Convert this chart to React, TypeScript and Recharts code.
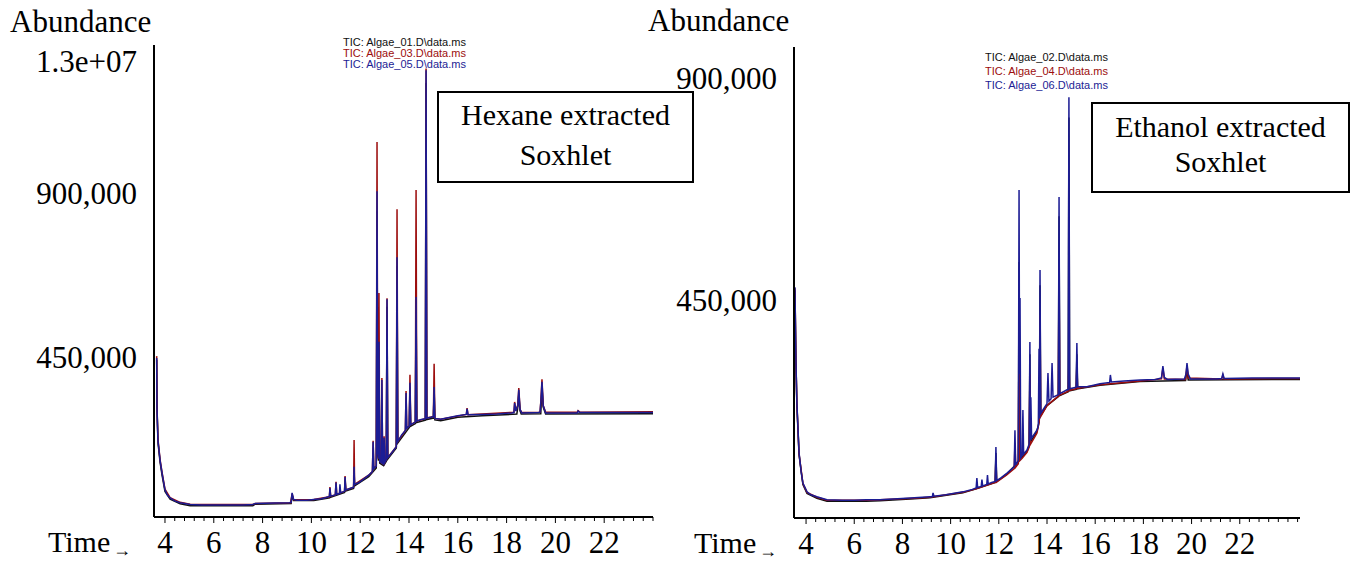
// GC-MS TIC chromatograms — hexane vs ethanol Soxhlet extracts
import { Line, LineChart, XAxis, YAxis } from 'recharts'

type Pt = [number, number] // [time (min), abundance (thousands)]

/* ── Hexane extract (left panel) ── */

const hexBlack: Pt[] = [
  [3.66, 445], [3.68, 300], [3.72, 215], [3.8, 165], [3.88, 130], [4.0, 86], [4.21, 65], [4.62, 52],
  [5.03, 47], [7.6, 47], [7.7, 51], [9.17, 53], [9.21, 76], [9.27, 61], [10.1, 61], [10.74, 68],
  [10.76, 90], [10.79, 70], [11.36, 83], [11.38, 118], [11.41, 87], [11.73, 94], [11.75, 140], [11.77, 101],
  [12.35, 126], [12.66, 150], [12.69, 850], [12.72, 185], [12.75, 170], [12.77, 470], [12.8, 163], [12.96, 156],
  [13.07, 168], [13.1, 590], [13.13, 174], [13.48, 204], [13.51, 700], [13.54, 218], [14.01, 260], [14.04, 370],
  [14.07, 264], [14.26, 271], [14.29, 600], [14.32, 274], [14.67, 280], [14.7, 1200], [14.73, 282], [15.0, 286],
  [15.03, 360], [15.06, 281], [15.3, 279], [16.0, 288], [17.0, 292], [18.42, 297], [18.46, 316], [18.5, 350],
  [18.55, 306], [18.6, 297], [19.4, 298], [19.45, 370], [19.5, 316], [19.6, 297], [24, 298],
]

const hexRed: Pt[] = [
  [3.66, 455], [3.67, 320], [3.71, 230], [3.8, 172], [3.88, 138], [4.0, 92], [4.21, 69], [4.62, 56],
  [5.03, 51], [7.6, 50], [7.7, 53], [9.15, 55], [9.21, 80], [9.27, 63], [10.1, 64], [10.74, 71],
  [10.76, 98], [10.79, 73], [10.98, 76], [11.01, 112], [11.04, 78], [11.36, 86], [11.38, 128], [11.41, 90],
  [11.73, 97], [11.75, 226], [11.77, 105], [12.35, 130], [12.5, 140], [12.53, 224], [12.56, 148], [12.66, 155],
  [12.69, 1039], [12.72, 195], [12.75, 176], [12.77, 627], [12.8, 168], [12.86, 165], [12.89, 395], [12.92, 162],
  [12.96, 160], [12.98, 236], [13.01, 165], [13.07, 172], [13.1, 613], [13.13, 178], [13.48, 208], [13.51, 856],
  [13.54, 222], [13.85, 252], [13.88, 360], [13.91, 258], [14.01, 264], [14.04, 404], [14.07, 268], [14.26, 275],
  [14.29, 908], [14.32, 278], [14.67, 284], [14.7, 1240], [14.73, 286], [15.0, 290], [15.03, 434], [15.06, 285],
  [15.3, 283], [16.35, 296], [16.38, 313], [16.42, 295], [18.3, 302], [18.33, 330], [18.38, 306], [18.46, 322],
  [18.5, 368], [18.55, 310], [18.62, 301], [19.37, 302], [19.41, 338], [19.45, 392], [19.5, 320], [19.6, 302],
  [20.9, 302], [20.93, 306], [21.0, 302], [24, 303],
]

const hexBlue: Pt[] = [
  [3.66, 450], [3.67, 316], [3.71, 226], [3.8, 170], [3.88, 136], [4.0, 90], [4.1, 76], [4.21, 68],
  [4.4, 60], [4.62, 55], [5.03, 50], [5.5, 49], [6.5, 49], [7.2, 49], [7.6, 50], [7.7, 53],
  [8.5, 54], [9.1, 55], [9.17, 56], [9.21, 82], [9.27, 64], [9.4, 62], [9.8, 62], [10.1, 64],
  [10.4, 66], [10.6, 69], [10.74, 72], [10.76, 95], [10.79, 73], [10.98, 76], [11.01, 110], [11.04, 78],
  [11.15, 80], [11.17, 105], [11.2, 82], [11.36, 86], [11.38, 125], [11.41, 90], [11.55, 93], [11.73, 97],
  [11.75, 153], [11.77, 105], [11.95, 110], [12.15, 120], [12.35, 130], [12.5, 140], [12.53, 221], [12.56, 148],
  [12.66, 155], [12.69, 905], [12.72, 190], [12.75, 175], [12.77, 494], [12.8, 168], [12.86, 165], [12.89, 390],
  [12.92, 162], [12.96, 160], [12.98, 232], [13.01, 165], [13.07, 172], [13.1, 610], [13.13, 178], [13.3, 192],
  [13.48, 208], [13.51, 725], [13.54, 222], [13.7, 240], [13.85, 252], [13.88, 354], [13.91, 258], [14.01, 264],
  [14.04, 382], [14.07, 268], [14.26, 275], [14.29, 616], [14.32, 278], [14.5, 282], [14.67, 284], [14.7, 1235],
  [14.73, 286], [14.9, 288], [15.0, 290], [15.03, 371], [15.06, 285], [15.3, 283], [15.6, 287], [16.0, 292],
  [16.35, 296], [16.38, 311], [16.42, 295], [17.0, 296], [17.6, 297], [18.2, 300], [18.3, 301], [18.33, 327],
  [18.38, 305], [18.46, 320], [18.5, 363], [18.55, 310], [18.62, 300], [19.3, 301], [19.37, 302], [19.41, 335],
  [19.45, 385], [19.5, 320], [19.6, 300], [20.5, 300], [20.9, 300], [20.93, 305], [21.0, 301], [22, 301],
  [23, 301], [24, 301],
]

/* ── Ethanol extract (right panel) ── */

const ethBlack: Pt[] = [
  [3.54, 470], [3.58, 325], [3.62, 236], [3.71, 136], [3.87, 76], [4.04, 58], [4.45, 48], [4.87, 42],
  [6.5, 42], [7.07, 43], [8.5, 47], [9.14, 49], [10.51, 59], [11.06, 67], [11.85, 80], [11.88, 140],
  [11.91, 82], [12.34, 97], [12.81, 122], [12.84, 527], [12.87, 128], [12.97, 132], [13.17, 143], [13.26, 155],
  [13.29, 340], [13.31, 162], [13.58, 183], [13.68, 205], [13.71, 480], [13.74, 216], [14.0, 236], [14.47, 254],
  [14.5, 620], [14.53, 256], [14.88, 264], [14.91, 820], [14.94, 266], [15.21, 269], [15.24, 340], [15.27, 270],
  [16.2, 277], [17.86, 285], [19.75, 287], [19.81, 310], [19.86, 288], [24.5, 289],
]

const ethRed: Pt[] = [
  [3.54, 474], [3.58, 327], [3.62, 239], [3.71, 138], [3.87, 78], [4.04, 60], [4.45, 50], [4.87, 44],
  [6.5, 44], [7.07, 45], [8.5, 48], [9.14, 50], [10.51, 60], [11.06, 67], [11.85, 80], [11.88, 130],
  [11.91, 81], [12.34, 96], [12.64, 108], [12.67, 160], [12.7, 111], [12.81, 118], [12.84, 420], [12.87, 124],
  [12.97, 129], [13.17, 141], [13.26, 152], [13.29, 300], [13.31, 157], [13.58, 180], [13.68, 204], [13.71, 420],
  [13.74, 214], [14.0, 236], [14.47, 255], [14.5, 520], [14.53, 257], [14.88, 265], [14.91, 330], [14.94, 267],
  [15.21, 270], [15.24, 320], [15.27, 271], [16.2, 278], [17.86, 286], [18.75, 290], [18.81, 312], [18.87, 290],
  [19.75, 289], [19.81, 318], [19.86, 292], [21.25, 290], [21.3, 298], [21.35, 290], [24.5, 291],
]

const ethBlue: Pt[] = [
  [3.54, 476], [3.58, 329], [3.62, 241], [3.71, 140], [3.8, 100], [3.87, 79], [4.04, 61], [4.2, 55],
  [4.45, 51], [4.87, 45], [5.5, 44], [6.0, 44], [6.5, 45], [7.07, 45], [7.8, 47], [8.5, 49],
  [9.14, 51], [9.24, 51], [9.27, 59], [9.31, 52], [9.8, 55], [10.51, 61], [10.9, 66], [11.06, 69],
  [11.09, 89], [11.12, 70], [11.27, 72], [11.3, 86], [11.33, 73], [11.5, 76], [11.53, 95], [11.56, 77],
  [11.7, 80], [11.85, 82], [11.88, 152], [11.91, 84], [12.1, 90], [12.34, 99], [12.55, 108], [12.64, 112],
  [12.67, 186], [12.7, 115], [12.75, 120], [12.81, 125], [12.84, 673], [12.86, 300], [12.88, 454], [12.91, 130],
  [12.97, 135], [13.0, 227], [13.03, 138], [13.17, 146], [13.26, 158], [13.29, 365], [13.31, 165], [13.33, 253],
  [13.36, 170], [13.58, 186], [13.64, 195], [13.67, 351], [13.69, 210], [13.71, 511], [13.74, 220], [13.83, 227],
  [14.0, 240], [14.04, 302], [14.08, 245], [14.17, 250], [14.21, 322], [14.25, 253], [14.47, 258], [14.5, 659],
  [14.53, 260], [14.83, 268], [14.88, 268], [14.91, 861], [14.94, 270], [15.21, 273], [15.24, 363], [15.27, 274],
  [15.66, 274], [16.2, 280], [16.6, 283], [16.63, 298], [16.67, 284], [17.2, 286], [17.86, 288], [18.5, 289],
  [18.75, 292], [18.81, 316], [18.87, 293], [19.0, 289], [19.7, 290], [19.77, 300], [19.81, 322], [19.86, 300],
  [19.95, 290], [21.0, 290], [21.25, 291], [21.3, 300], [21.35, 291], [22.5, 292], [24.5, 292],
]

/* ── Axis ticks & labels ── */

const hexYTicks = [450, 900, 1260]
const hexYLabels = ['450,000', '900,000', '1.3e+07']
const ethYTicks = [450, 900]
const ethYLabels = ['450,000', '900,000']
const timeLabels = [4, 6, 8, 10, 12, 14, 16, 18, 20, 22]

const hexLegend = ['TIC: Algae_01.D\\data.ms', 'TIC: Algae_03.D\\data.ms', 'TIC: Algae_05.D\\data.ms']
const ethLegend = ['TIC: Algae_02.D\\data.ms', 'TIC: Algae_04.D\\data.ms', 'TIC: Algae_06.D\\data.ms']

const COLORS = ['#111111', '#9c0d0d', '#1c1c94']
const SERIF = 'Liberation Serif'
const SANS = 'Liberation Sans'

// minor ticks every 0.4 min
const minorTicks = (end: number) =>
  Array.from({ length: Math.floor((end - 4) / 0.4 + 1e-6) + 1 }, (_, i) => Math.round((4 + i * 0.4) * 10) / 10)

const toRows = (pts: Pt[]) => pts.map(([t, v]) => ({ t, v }))

function TimeTick({ x, y, payload }: any) {
  const v = payload.value
  const major = timeLabels.includes(v)
  return (
    <g>
      <line x1={x} x2={x} y1={y} y2={y + (major ? 6 : 4)} stroke="#000" strokeWidth={1} />
      {major && (
        <text x={x} y={y + 36} textAnchor="middle" fontSize={31} fontFamily={SERIF} fill="#000">
          {v}
        </text>
      )}
    </g>
  )
}

const yTick = (ticks: number[], labels: string[]) => ({ x, y, payload }: any) => (
  <text x={x - 17} y={y + 10.5} textAnchor="end" fontSize={31} fontFamily={SERIF} fill="#000">
    {labels[ticks.indexOf(payload.value)]}
  </text>
)

interface PanelProps {
  series: Pt[][]
  width: number
  margin: { top: number; right: number; bottom: number; left: number }
  xDomain: [number, number]
  yDomain: [number, number]
  yTicks: number[]
  yLabels: string[]
}

function Panel({ series, width, margin, xDomain, yDomain, yTicks, yLabels }: PanelProps) {
  return (
    <LineChart width={width} height={561} margin={margin}>
      <XAxis
        type="number"
        dataKey="t"
        domain={xDomain}
        allowDataOverflow
        ticks={minorTicks(xDomain[1])}
        interval={0}
        tick={<TimeTick />}
        tickLine={false}
        tickSize={0}
        tickMargin={0}
        height={1}
        axisLine={{ stroke: '#000', strokeWidth: 2 }}
      />
      <YAxis
        type="number"
        domain={yDomain}
        allowDataOverflow
        ticks={yTicks}
        interval={0}
        tick={yTick(yTicks, yLabels)}
        tickLine={false}
        tickSize={0}
        tickMargin={0}
        width={1}
        axisLine={{ stroke: '#000', strokeWidth: 2 }}
      />
      {series.map((pts, i) => (
        <Line
          key={i}
          data={toRows(pts)}
          dataKey="v"
          type="linear"
          stroke={COLORS[i]}
          strokeWidth={1.5}
          dot={false}
          activeDot={false}
          isAnimationActive={false}
        />
      ))}
    </LineChart>
  )
}

export default function App() {
  return (
    <div style={{ position: 'absolute', left: 0, top: 0, width: 1351, height: 561, background: '#fff' }}>
      <div style={{ position: 'absolute', left: 0, top: 0 }}>
        <Panel
          series={[hexBlack, hexRed, hexBlue]}
          width={700}
          margin={{ top: 45, right: 47, bottom: 43, left: 153 }}
          xDomain={[3.55, 24]}
          yDomain={[16, 1304]}
          yTicks={hexYTicks}
          yLabels={hexYLabels}
        />
      </div>
      <div style={{ position: 'absolute', left: 640, top: 0 }}>
        <Panel
          series={[ethBlack, ethRed, ethBlue]}
          width={711}
          margin={{ top: 47, right: 51, bottom: 42, left: 153 }}
          xDomain={[3.5, 24.5]}
          yDomain={[8, 963]}
          yTicks={ethYTicks}
          yLabels={ethYLabels}
        />
      </div>

      {/* titles, legends and annotation boxes */}
      <svg width={1351} height={561} style={{ position: 'absolute', left: 0, top: 0, pointerEvents: 'none' }}>
        <text x={10} y={32} fontSize={31} fontFamily={SERIF} fill="#000">Abundance</text>
        <text x={648} y={31} fontSize={31} fontFamily={SERIF} fill="#000">Abundance</text>
        <text x={48} y={552} fontSize={30} fontFamily={SERIF} fill="#000">Time</text>
        <text x={113} y={556} fontSize={18} fontFamily={SERIF} fill="#000">→</text>
        <text x={694} y={553} fontSize={30} fontFamily={SERIF} fill="#000">Time</text>
        <text x={759} y={557} fontSize={18} fontFamily={SERIF} fill="#000">→</text>

        {hexLegend.map((s, i) => (
          <text key={s} x={343} y={46 + i * 11} fontSize={11} fontFamily={SANS} fill={COLORS[i]}>
            {s}
          </text>
        ))}
        {ethLegend.map((s, i) => (
          <text key={s} x={985} y={61 + i * 14} fontSize={11} fontFamily={SANS} fill={COLORS[i]}>
            {s}
          </text>
        ))}

        <rect x={438} y={92} width={255} height={90} fill="#fff" stroke="#000" strokeWidth={2} />
        <text x={565.5} y={125} fontSize={30} fontFamily={SERIF} textAnchor="middle" fill="#000">Hexane extracted</text>
        <text x={565.5} y={165} fontSize={30} fontFamily={SERIF} textAnchor="middle" fill="#000">Soxhlet</text>
        <rect x={1092} y={103} width={257} height={89} fill="#fff" stroke="#000" strokeWidth={2} />
        <text x={1220.5} y={137} fontSize={30} fontFamily={SERIF} textAnchor="middle" fill="#000">Ethanol extracted</text>
        <text x={1220.5} y={172} fontSize={30} fontFamily={SERIF} textAnchor="middle" fill="#000">Soxhlet</text>
      </svg>
    </div>
  )
}
